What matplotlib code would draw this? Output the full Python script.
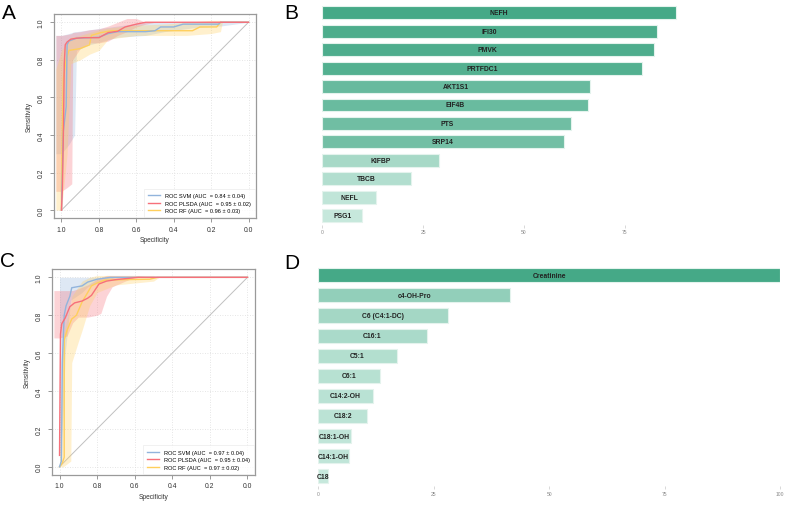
import numpy as np
import matplotlib
matplotlib.use('Agg')
import matplotlib.pyplot as plt
from matplotlib.colors import LinearSegmentedColormap

plt.rcParams['font.family'] = ['Liberation Sans', 'DejaVu Sans']

# ---- ROC curves, panel A (specificity / sensitivity) ----
A_svm_spec = [1.0, 0.99, 0.975, 0.97, 0.96, 0.92, 0.80, 0.75, 0.70, 0.55, 0.50, 0.47, 0.40, 0.35, 0.16, 0.15, 0.0]
A_svm_sens = [0.0, 0.42, 0.55, 0.88, 0.90, 0.915, 0.92, 0.94, 0.95, 0.95, 0.955, 0.975, 0.975, 0.99, 0.99, 1.0, 1.0]
A_pls_spec = [1.0, 0.995, 0.99, 0.985, 0.98, 0.97, 0.95, 0.92, 0.88, 0.80, 0.75, 0.70, 0.66, 0.60, 0.55, 0.0]
A_pls_sens = [0.0, 0.12, 0.40, 0.78, 0.88, 0.895, 0.91, 0.915, 0.918, 0.918, 0.945, 0.952, 0.975, 0.99, 1.0, 1.0]
A_rf_spec = [1.0, 1.0, 0.995, 0.99, 0.975, 0.96, 0.90, 0.85, 0.84, 0.79, 0.73, 0.30, 0.26, 0.17, 0.15, 0.0]
A_rf_sens = [0.0, 0.12, 0.45, 0.70, 0.80, 0.85, 0.86, 0.88, 0.93, 0.945, 0.955, 0.955, 0.975, 0.975, 1.0, 1.0]

# confidence bands A
A_svm_bspec = [1.03, 1.0, 0.96, 0.93, 0.92, 0.85, 0.7, 0.55, 0.45, 0.3, 0.15, 0.0]
A_svm_lo = [0.3, 0.3, 0.35, 0.40, 0.85, 0.88, 0.92, 0.93, 0.95, 0.97, 0.98, 1.0]
A_svm_hi = [0.93, 0.93, 0.94, 0.95, 0.95, 0.96, 0.98, 1.0, 1.0, 1.0, 1.0, 1.0]
A_pls_bspec = [1.03, 1.0, 0.97, 0.945, 0.94, 0.90, 0.85, 0.80, 0.75, 0.70, 0.65, 0.60, 0.55, 0.50, 0.0]
A_pls_lo = [0.10, 0.10, 0.12, 0.14, 0.80, 0.86, 0.89, 0.89, 0.90, 0.93, 0.95, 0.975, 0.99, 1.0, 1.0]
A_pls_hi = [0.93, 0.93, 0.935, 0.94, 0.945, 0.95, 0.96, 0.965, 0.98, 1.0, 1.02, 1.02, 1.0, 1.0, 1.0]
A_rf_bspec = [1.03, 1.0, 0.97, 0.95, 0.90, 0.85, 0.80, 0.75, 0.60, 0.45, 0.33, 0.2, 0.15, 0.14, 0.0]
A_rf_lo = [0.0, 0.0, 0.3, 0.78, 0.80, 0.83, 0.85, 0.91, 0.93, 0.93, 0.93, 0.94, 0.95, 1.0, 1.0]
A_rf_hi = [0.75, 0.85, 0.90, 0.92, 0.93, 0.945, 0.96, 0.97, 0.985, 0.99, 1.0, 1.01, 1.01, 1.0, 1.0]

# ---- ROC curves, panel C ----
C_svm_spec = [1.0, 0.99, 0.985, 0.98, 0.975, 0.965, 0.945, 0.935, 0.88, 0.85, 0.80, 0.73, 0.0]
C_svm_sens = [0.0, 0.03, 0.55, 0.68, 0.80, 0.85, 0.90, 0.945, 0.955, 0.975, 0.99, 1.0, 1.0]
C_pls_spec = [1.0, 0.995, 0.988, 0.97, 0.945, 0.92, 0.88, 0.85, 0.83, 0.81, 0.79, 0.75, 0.70, 0.62, 0.58, 0.0]
C_pls_sens = [0.06, 0.70, 0.755, 0.785, 0.845, 0.865, 0.875, 0.89, 0.905, 0.935, 0.965, 0.98, 0.988, 0.996, 1.0, 1.0]
C_rf_spec = [1.0, 0.985, 0.975, 0.975, 0.96, 0.935, 0.91, 0.88, 0.85, 0.83, 0.80, 0.76, 0.65, 0.52, 0.48, 0.0]
C_rf_sens = [0.0, 0.02, 0.05, 0.67, 0.72, 0.78, 0.80, 0.87, 0.92, 0.955, 0.97, 0.985, 0.988, 0.99, 1.0, 1.0]

C_svm_bspec = [1.0, 0.98, 0.97, 0.94, 0.88, 0.85, 0.80, 0.7, 0.0]
C_svm_lo = [0.0, 0.3, 0.6, 0.88, 0.92, 0.95, 0.97, 1.0, 1.0]
C_svm_hi = [1.0, 1.0, 1.0, 1.0, 1.0, 1.0, 1.0, 1.0, 1.0]
C_pls_bspec = [1.03, 1.0, 0.96, 0.93, 0.90, 0.85, 0.80, 0.78, 0.75, 0.72, 0.65, 0.6, 0.5, 0.0]
C_pls_lo = [0.68, 0.68, 0.69, 0.76, 0.79, 0.79, 0.80, 0.81, 0.90, 0.95, 0.98, 1.0, 1.0, 1.0]
C_pls_hi = [0.93, 0.93, 0.93, 0.93, 0.94, 0.96, 0.99, 1.0, 1.01, 1.01, 1.01, 1.01, 1.0, 1.0]
C_rf_bspec = [1.0, 0.98, 0.94, 0.935, 0.90, 0.88, 0.84, 0.80, 0.7, 0.6, 0.5, 0.47, 0.0]
C_rf_lo = [0.0, 0.0, 0.03, 0.55, 0.66, 0.72, 0.85, 0.92, 0.96, 0.97, 0.98, 1.0, 1.0]
C_rf_hi = [0.05, 0.70, 0.86, 0.90, 0.95, 0.98, 1.0, 1.01, 1.01, 1.01, 1.01, 1.0, 1.0]

A_labels = ['ROC SVM (AUC  = 0.84 \u00b1 0.04)', 'ROC PLSDA (AUC  = 0.95 \u00b1 0.02)', 'ROC RF (AUC  = 0.96 \u00b1 0.03)']
C_labels = ['ROC SVM (AUC  = 0.97 \u00b1 0.04)', 'ROC PLSDA (AUC  = 0.95 \u00b1 0.04)', 'ROC RF (AUC  = 0.97 \u00b1 0.02)']

# ---- variable importance ----
B_names = ['NEFH', 'IFI30', 'PMVK', 'PRTFDC1', 'AKT1S1', 'EIF4B', 'PTS', 'SRP14', 'KIFBP', 'TBCB', 'NEFL', 'PSG1']
B_vals = [87.5, 82.8, 82.1, 79.1, 66.3, 65.8, 61.7, 60.0, 29.0, 22.1, 13.4, 10.0]
D_names = ['Creatinine', 'c4-OH-Pro', 'C6 (C4:1-DC)', 'C16:1', 'C5:1', 'C6:1', 'C14:2-OH', 'C18:2', 'C18:1-OH', 'C14:1-OH', 'C18']
D_vals = [100, 41.6, 28.2, 23.5, 17.0, 13.4, 11.8, 10.5, 7.1, 6.6, 2.2]

col_svm = '#92B4DC'
col_pls = '#F7707A'
col_rf = '#FFCF5C'
cmap = LinearSegmentedColormap.from_list('imp', ['#C6E8DC', '#45A987'])

W, H = 791, 506
fig = plt.figure(figsize=(W / 100, H / 100), dpi=100)


def px_axes(l, t, r, b):
	# axes from pixel box
	return fig.add_axes([l / W, 1 - b / H, (r - l) / W, (b - t) / H])


def roc_panel(ax, curves, bands, labels):
	ax.set_xlim(1.04, -0.04)
	ax.set_ylim(-0.042, 1.044)
	for v in np.arange(0, 1.01, 0.2):
		ax.axvline(v, color='#dddddd', lw=0.6, ls=(0, (1, 2)), zorder=0)
		ax.axhline(v, color='#dddddd', lw=0.6, ls=(0, (1, 2)), zorder=0)
	ax.plot([1, 0], [0, 1], color='#c0c0c0', lw=0.7, zorder=1)
	cols = [col_svm, col_pls, col_rf]
	for (bs, lo, hi), c in zip(bands, cols):
		ax.fill_between(bs, lo, hi, color=c, alpha=0.3, lw=0, zorder=2)
	zs = [4, 5, 3]
	for (sp, se), c, lab, z in zip(curves, cols, labels, zs):
		ax.plot(sp, se, color=c, lw=1.0, label=lab, zorder=z)
	ax.set_xticks([1.0, 0.8, 0.6, 0.4, 0.2, 0.0])
	ax.set_xticklabels(['1.0', '0.8', '0.6', '0.4', '0.2', '0.0'])
	ax.set_yticks([0.0, 0.2, 0.4, 0.6, 0.8, 1.0])
	ax.set_yticklabels(['0.0', '0.2', '0.4', '0.6', '0.8', '1.0'], rotation=90, va='center')
	ax.tick_params(length=3, width=0.6, color='#888888', labelsize=4.9, labelcolor='#333333')
	ax.tick_params(axis='x', pad=2.5)
	ax.tick_params(axis='y', pad=4)
	for s in ax.spines.values():
		s.set_color('#9a9a9a')
		s.set_linewidth(0.9)
	ax.set_xlabel('Specificity', fontsize=4.8, color='#333333')
	ax.set_ylabel('Sensitivity', fontsize=4.8, color='#333333')
	ax.xaxis.set_label_coords(0.5, -0.09)
	ax.yaxis.set_label_coords(-0.105, 0.5)
	leg = ax.legend(loc='lower right', fontsize=4.1, frameon=True, fancybox=False,
		borderaxespad=0.1, handlelength=2.1, handletextpad=0.85, labelspacing=0.4,
		borderpad=0.8)
	leg.get_frame().set_edgecolor('#e6e6e6')
	leg.get_frame().set_linewidth(0.5)


def bar_panel(ax, names, vals, xmax, ticks):
	nv = (np.array(vals) - min(vals)) / (max(vals) - min(vals))
	y = np.arange(len(vals))
	ax.barh(y, vals, height=0.7, color=cmap(nv), edgecolor='#e4f3ed', linewidth=0.8)
	for yi, v, n in zip(y, vals, names):
		ax.text(v / 2, yi, n, ha='center', va='center', fontsize=4.9, fontweight='bold', color='#222222')
	ax.set_xlim(0, xmax)
	ax.set_ylim(len(vals) - 0.5, -0.5)
	ax.set_yticks([])
	ax.set_xticks(ticks)
	ax.set_xticklabels([str(t) for t in ticks])
	ax.tick_params(axis='x', length=2, width=0.4, color='#bbbbbb', labelsize=3.6, labelcolor='#888888', pad=1)
	for s in ax.spines.values():
		s.set_visible(False)


axA = px_axes(54, 15, 256, 219)
roc_panel(axA, [(A_svm_spec, A_svm_sens), (A_pls_spec, A_pls_sens), (A_rf_spec, A_rf_sens)],
	[(A_svm_bspec, A_svm_lo, A_svm_hi), (A_pls_bspec, A_pls_lo, A_pls_hi), (A_rf_bspec, A_rf_lo, A_rf_hi)],
	A_labels)

axC = px_axes(52, 270, 255, 475.7)
roc_panel(axC, [(C_svm_spec, C_svm_sens), (C_pls_spec, C_pls_sens), (C_rf_spec, C_rf_sens)],
	[(C_svm_bspec, C_svm_lo, C_svm_hi), (C_pls_bspec, C_pls_lo, C_pls_hi), (C_rf_bspec, C_rf_lo, C_rf_hi)],
	C_labels)

axB = px_axes(322, 4.5, 780, 225.9)
bar_panel(axB, B_names, B_vals, 458 / 4.04, [0, 25, 50, 75])

axD = px_axes(318.3, 266.25, 780, 487.35)
bar_panel(axD, D_names, D_vals, 100, [0, 25, 50, 75, 100])

# panel letters
for lab, x, y in [('A', 2, 4), ('B', 284, 4), ('C', 0, 252), ('D', 284, 254)]:
	fig.text(x / W, 1 - y / H, lab, fontsize=15, va='top', ha='left', color='black')

fig.savefig('out.png', dpi=100)
